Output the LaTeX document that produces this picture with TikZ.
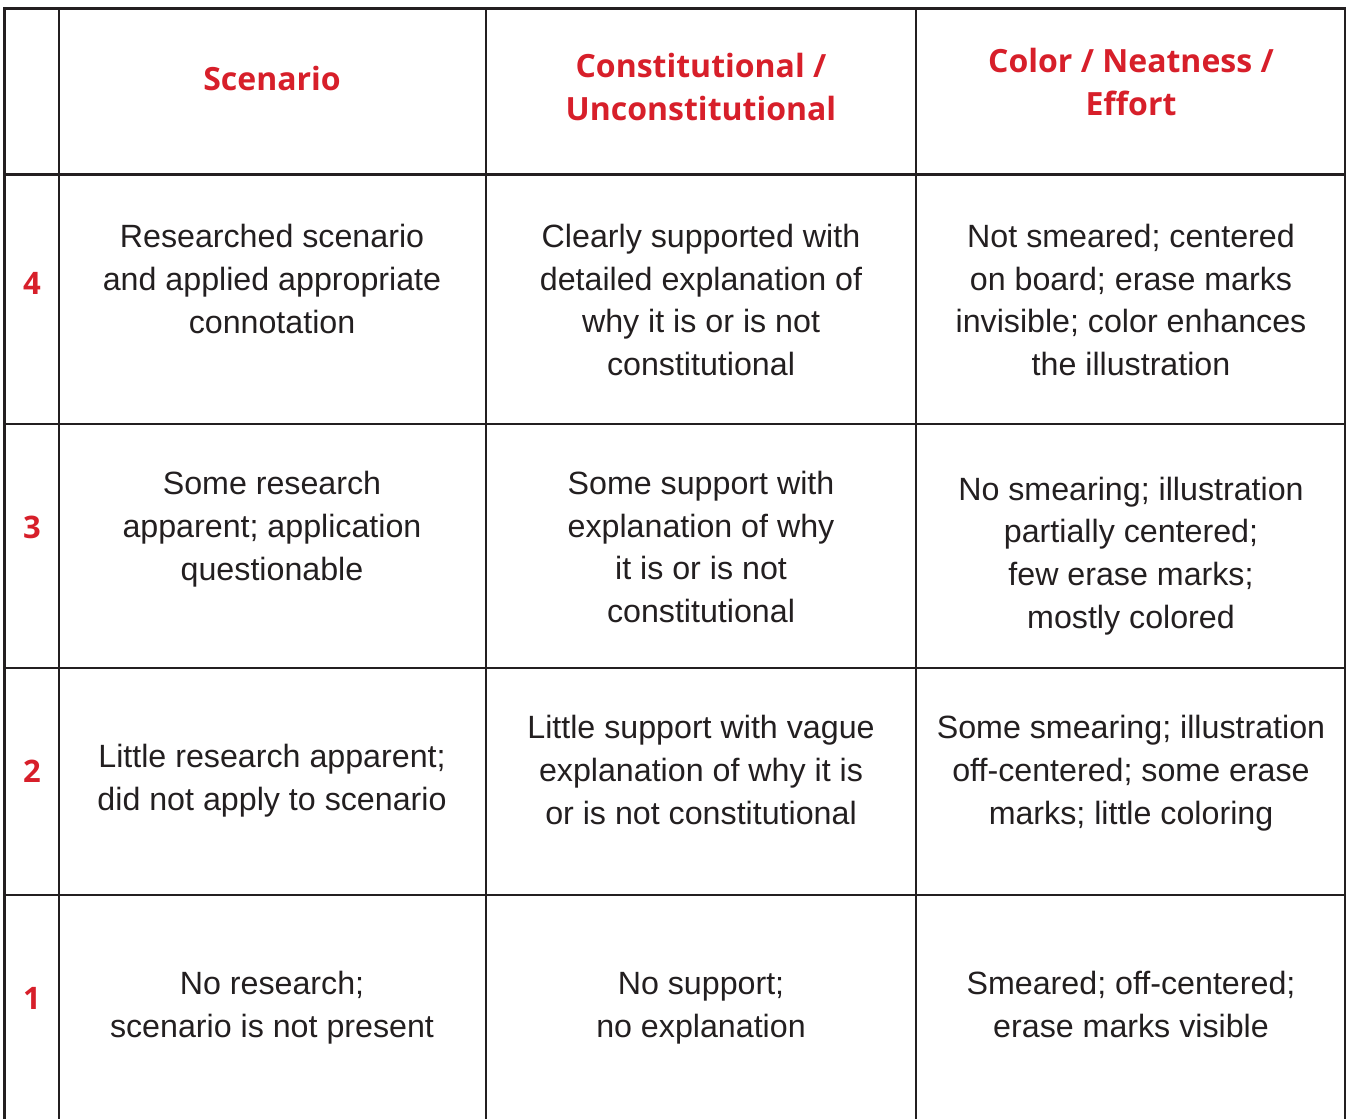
\documentclass[tikz,border=0pt]{standalone}
\usepackage{fontspec}
\setmainfont{Liberation Sans}
\newfontfamily\headfont{Open Sans}
\definecolor{hdred}{HTML}{D71F2A}
\definecolor{ink}{HTML}{231F20}
\begin{document}
\begin{tikzpicture}[x=1pt,y=-1pt,
  grid/.style={draw=ink,line width=2.6pt},
  hd/.style={text=hdred,font=\headfont\bfseries\fontsize{32}{43}\selectfont,align=center,inner sep=0pt},
  num/.style={text=hdred,font=\headfont\bfseries\fontsize{31}{43}\selectfont,inner sep=0pt},
  cell/.style={text=ink,font=\fontsize{32.2}{42.7}\selectfont,align=center,inner sep=0pt}]
\useasboundingbox (0,0) rectangle (1349,1119);
% grid
\draw[grid] (4.5,1119) -- (4.5,8.5) -- (1345,8.5) -- (1345,1119);
\foreach \x in {59,486,916} \draw[grid] (\x,8.5) -- (\x,1119);
\foreach \y in {174.5,424,668,895} \draw[grid] (4.5,\y) -- (1345,\y);
% header
\node[hd] (h1) at (272,78) {Scenario};
\node[hd] (h2) at (701,86.5) {Constitutional /\\Unconstitutional};
\node[hd] (h3) at (1131,81.5) {Color / Neatness /\\Effort};
% numbers
\node[num] (n4) at (32,283) {4};
\node[num] (n3) at (32,527) {3};
\node[num] (n2) at (32,771) {2};
\node[num] (n1) at (32,998) {1};
% row 4
\node[cell] (a4) at (272,279) {Researched scenario\\and applied appropriate\\connotation};
\node[cell] (b4) at (701,300) {Clearly supported with\\detailed explanation of\\why it is or is not\\constitutional};
\node[cell] (c4) at (1131,300) {Not smeared; centered\\on board; erase marks\\invisible; color enhances\\the illustration};
% row 3
\node[cell] (a3) at (272,529) {Some research\\apparent; application\\questionable};
\node[cell] (b3) at (701,547) {Some support with\\explanation of why\\it is or is not\\constitutional};
\node[cell] (c3) at (1131,556) {No smearing; illustration\\partially centered;\\few erase marks;\\mostly colored};
% row 2
\node[cell] (a2) at (272,781) {Little research apparent;\\did not apply to scenario};
\node[cell] (b2) at (701,770) {Little support with vague\\explanation of why it is\\or is not constitutional};
\node[cell] (c2) at (1131,773) {Some smearing; illustration\\off-centered; some erase\\marks; little coloring};
% row 1
\node[cell] (a1) at (272,1008) {No research;\\scenario is not present};
\node[cell] (b1) at (701,1008.5) {No support;\\no explanation};
\node[cell] (c1) at (1131,1004.5) {Smeared; off-centered;\\erase marks visible};
\end{tikzpicture}
\end{document}
